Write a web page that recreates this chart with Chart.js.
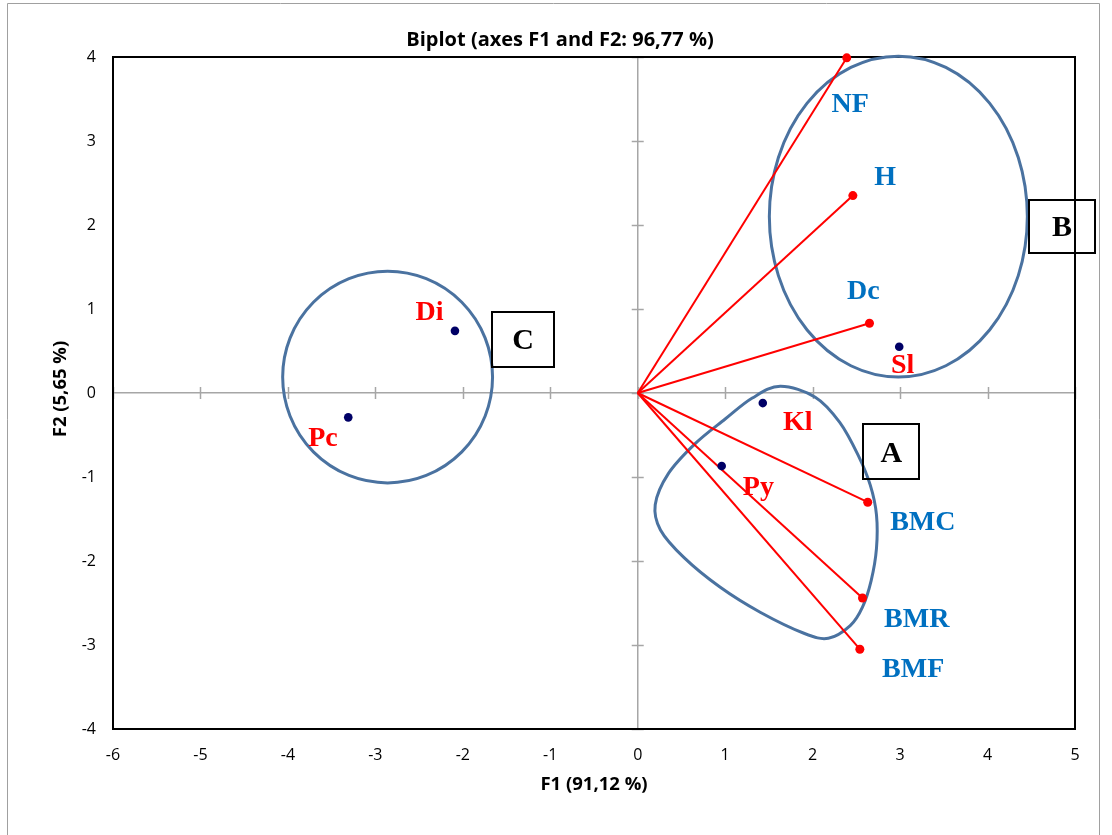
<!DOCTYPE html>
<html><head><meta charset="utf-8">
<script src="https://cdn.jsdelivr.net/npm/chart.js@4/dist/chart.umd.min.js"></script>
<style>html,body{margin:0;padding:0;background:#fff}#wrap{width:1112px;height:835px;position:relative}canvas{display:block}</style>
</head><body><div id="wrap"><canvas id="c" width="1112" height="835"></canvas></div>
<script>
// ---- data ----
const chartTitle = 'Biplot (axes F1 and F2: 96,77 %)';
const xTitle = 'F1 (91,12 %)';
const yTitle = 'F2 (5,65 %)';
const xTicks = [-6, -5, -4, -3, -2, -1, 0, 1, 2, 3, 4, 5];
const yTicks = [-4, -3, -2, -1, 0, 1, 2, 3, 4];

const variableNames = ['NF', 'H', 'Dc', 'BMC', 'BMR', 'BMF'];
const variableF1 = [2.39, 2.46, 2.65, 2.63, 2.57, 2.54];
const variableF2 = [3.99, 2.35, 0.83, -1.30, -2.44, -3.05];
const variableLabelF1 = [2.43, 2.83, 2.58, 3.26, 3.19, 3.15];
const variableLabelF2 = [3.43, 2.56, 1.21, -1.55, -2.70, -3.30];

const observationNames = ['Sl', 'Kl', 'Py', 'Di', 'Pc'];
const observationF1 = [2.99, 1.43, 0.96, -2.09, -3.31];
const observationF2 = [0.55, -0.12, -0.87, 0.74, -0.29];
const observationLabelF1 = [3.03, 1.83, 1.38, -2.38, -3.60];
const observationLabelF2 = [0.33, -0.36, -1.13, 0.95, -0.54];

const groupNames = ['A', 'B', 'C'];
const groupBoxF1 = [2.90, 4.85, -1.31];
const groupBoxF2 = [-0.70, 1.98, 0.64];
// ellipse groups (B, C): centre and semi-axes in F1/F2 units
const ellipseCentreF1 = [2.98, -2.86];
const ellipseCentreF2 = [2.10, 0.19];
const ellipseRadiusF1 = [1.475, 1.20];
const ellipseRadiusF2 = [1.91, 1.26];
// group A outline
const groupAContourF1 = [1.63, 2.03, 2.31, 2.52, 2.66, 2.73, 2.73, 2.67, 2.57, 2.43, 2.18, 1.90, 1.40, 0.94, 0.53, 0.26, 0.20, 0.35, 0.66, 1.00, 1.31];
const groupAContourF2 = [0.08, -0.05, -0.35, -0.74, -1.10, -1.45, -1.85, -2.23, -2.55, -2.77, -2.92, -2.86, -2.61, -2.31, -1.96, -1.63, -1.33, -0.96, -0.60, -0.31, -0.06];

// ---- styles ----
const RED = '#FF0000', BLUE_TXT = '#0070C0', NAVY = '#000066', GROUP = '#4A72A0', AXIS_GRAY = '#A6A6A6';
const SERIF = '"Liberation Serif", "Times New Roman", serif';
const SANS = '"Open Sans", "Liberation Sans", sans-serif';

const datasets = [];
variableNames.forEach((n, i) => {
  datasets.push({
    label: n,
    data: [{x: 0, y: 0}, {x: variableF1[i], y: variableF2[i]}],
    showLine: true,
    borderColor: RED,
    backgroundColor: RED,
    borderWidth: 2,
    pointRadius: [0, 4.5],
    pointBorderWidth: 0,
    clip: false,
    order: 2
  });
});
datasets.push({
  label: 'Observations',
  data: observationF1.map((v, i) => ({x: v, y: observationF2[i]})),
  showLine: false,
  backgroundColor: NAVY,
  borderColor: NAVY,
  pointRadius: 4.3,
  pointBorderWidth: 0,
  clip: false,
  order: 1
});

const decor = {
  id: 'decor',
  beforeDraw(chart) {
    const c = chart.ctx;
    c.save();
    c.fillStyle = '#fff';
    c.fillRect(0, 0, chart.width, chart.height);
    c.strokeStyle = '#A0A0A0';
    c.lineWidth = 1;
    c.beginPath();
    c.moveTo(7.5, 900); c.lineTo(7.5, 3.5); c.lineTo(1099.5, 3.5); c.lineTo(1099.5, 900);
    c.stroke();
    c.restore();
  },
  beforeDatasetsDraw(chart) {
    const c = chart.ctx, xs = chart.scales.x, ys = chart.scales.y, a = chart.chartArea;
    c.save();
    // tick marks on the zero axes
    const x0 = xs.getPixelForValue(0), y0 = ys.getPixelForValue(0);
    c.strokeStyle = AXIS_GRAY; c.lineWidth = 1.5;
    xTicks.forEach(v => { const px = Math.round(xs.getPixelForValue(v)) + 0.5; c.beginPath(); c.moveTo(px, y0 - 6); c.lineTo(px, y0 + 6); c.stroke(); });
    yTicks.forEach(v => { const py = Math.round(ys.getPixelForValue(v)) + 0.5; c.beginPath(); c.moveTo(x0 - 6, py); c.lineTo(x0 + 6, py); c.stroke(); });
    // plot frame
    c.strokeStyle = '#000'; c.lineWidth = 2;
    c.strokeRect(a.left, a.top, a.right - a.left, a.bottom - a.top);
    // group outlines
    c.strokeStyle = GROUP; c.lineWidth = 3;
    ellipseCentreF1.forEach((cx, i) => {
      const px = xs.getPixelForValue(cx), py = ys.getPixelForValue(ellipseCentreF2[i]);
      const rx = Math.abs(xs.getPixelForValue(cx + ellipseRadiusF1[i]) - px);
      const ry = Math.abs(ys.getPixelForValue(ellipseCentreF2[i] + ellipseRadiusF2[i]) - py);
      c.beginPath(); c.ellipse(px, py, rx, ry, 0, 0, Math.PI * 2); c.stroke();
    });
    const pts = groupAContourF1.map((v, i) => [xs.getPixelForValue(v), ys.getPixelForValue(groupAContourF2[i])]);
    const n = pts.length;
    c.beginPath();
    c.moveTo(pts[0][0], pts[0][1]);
    for (let i = 0; i < n; i++) {
      const p0 = pts[(i - 1 + n) % n], p1 = pts[i], p2 = pts[(i + 1) % n], p3 = pts[(i + 2) % n];
      c.bezierCurveTo(p1[0] + (p2[0] - p0[0]) / 6, p1[1] + (p2[1] - p0[1]) / 6,
                      p2[0] - (p3[0] - p1[0]) / 6, p2[1] - (p3[1] - p1[1]) / 6,
                      p2[0], p2[1]);
    }
    c.closePath(); c.stroke();
    c.restore();
  },
  afterDraw(chart) {
    const c = chart.ctx, xs = chart.scales.x, ys = chart.scales.y, a = chart.chartArea;
    c.save();
    c.textAlign = 'center'; c.textBaseline = 'middle';
    // point labels
    c.font = 'bold 28px ' + SERIF;
    c.fillStyle = BLUE_TXT;
    variableNames.forEach((n, i) => c.fillText(n, xs.getPixelForValue(variableLabelF1[i]), ys.getPixelForValue(variableLabelF2[i])));
    c.fillStyle = RED;
    observationNames.forEach((n, i) => c.fillText(n, xs.getPixelForValue(observationLabelF1[i]), ys.getPixelForValue(observationLabelF2[i])));
    // group boxes
    const boxW = [56, 66, 62], boxH = [55, 53, 55];
    groupNames.forEach((n, i) => {
      const px = xs.getPixelForValue(groupBoxF1[i]), py = ys.getPixelForValue(groupBoxF2[i]);
      c.strokeStyle = '#000'; c.lineWidth = 2;
      c.strokeRect(Math.round(px - boxW[i] / 2), Math.round(py - boxH[i] / 2), boxW[i], boxH[i]);
      c.fillStyle = '#000'; c.font = 'bold 30px ' + SERIF;
      c.fillText(n, px, py + 2);
    });
    // titles
    c.fillStyle = '#000';
    c.font = 'bold 20px ' + SANS;
    c.fillText(chartTitle, 560, 40);
    c.font = 'bold 18.5px ' + SANS;
    c.fillText(xTitle, (a.left + a.right) / 2, 785);
    c.translate(61, (a.top + a.bottom) / 2 - 4);
    c.rotate(-Math.PI / 2);
    c.fillText(yTitle, 0, 0);
    c.restore();
  }
};

Chart.defaults.font.family = SANS;
new Chart(document.getElementById('c'), {
  type: 'scatter',
  data: {datasets},
  options: {
    responsive: false,
    devicePixelRatio: 1,
    animation: false,
    layout: {padding: {top: 57, right: 37, left: 0, bottom: 0}},
    plugins: {legend: {display: false}, tooltip: {enabled: false}, title: {display: false}},
    scales: {
      x: {
        type: 'linear', min: xTicks[0], max: xTicks[xTicks.length - 1],
        afterFit: s => { s.height = 106; },
        afterBuildTicks: s => { s.ticks = xTicks.map(v => ({value: v})); },
        ticks: {color: '#000', font: {size: 16}, padding: 17, maxRotation: 0, autoSkip: false},
        grid: {drawTicks: false, lineWidth: 1.5, color: ctx => (ctx.tick && ctx.tick.value === 0) ? AXIS_GRAY : 'rgba(0,0,0,0)'},
        border: {display: false}
      },
      y: {
        type: 'linear', min: yTicks[0], max: yTicks[yTicks.length - 1],
        afterFit: s => { s.width = 113; },
        afterBuildTicks: s => { s.ticks = yTicks.map(v => ({value: v})); },
        ticks: {color: '#000', font: {size: 16}, padding: 17, autoSkip: false},
        grid: {drawTicks: false, lineWidth: 1.5, color: ctx => (ctx.tick && ctx.tick.value === 0) ? AXIS_GRAY : 'rgba(0,0,0,0)'},
        border: {display: false}
      }
    }
  },
  plugins: [decor]
});
</script>
</body></html>
